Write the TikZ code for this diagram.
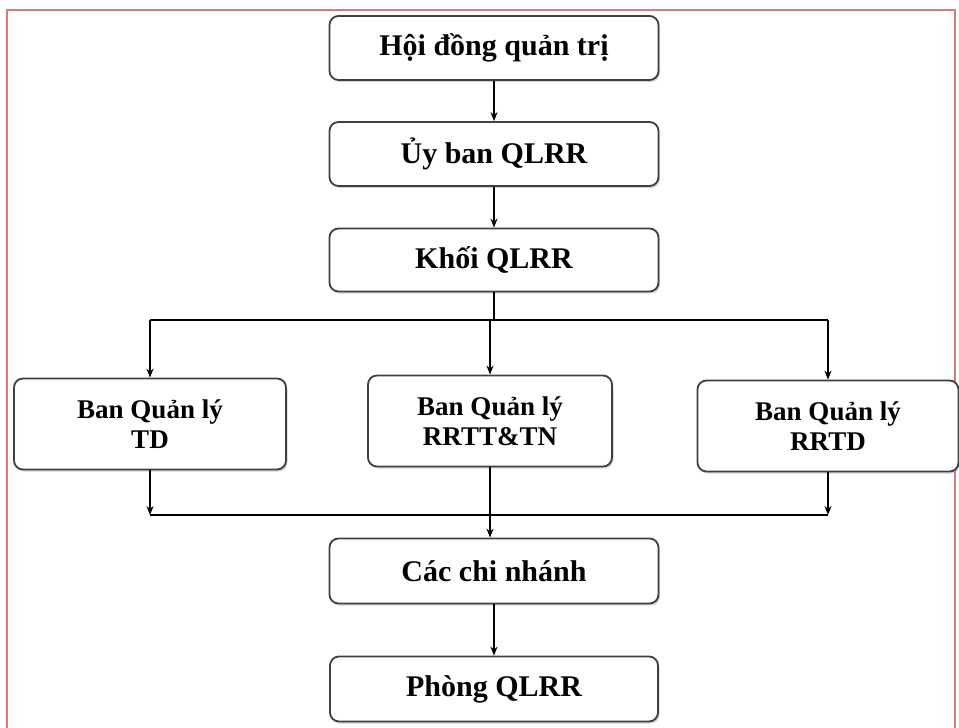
\documentclass[tikz,border=0pt]{standalone}
\usepackage{fontspec}
\setmainfont{Liberation Serif}
\usetikzlibrary{positioning,arrows.meta,shadows}

\begin{document}
\begin{tikzpicture}[x=1pt,y=-1pt,
  box/.style={draw=black!75,line width=1.8pt,rounded corners=9pt,fill=white,
    drop shadow={opacity=0.35,shadow xshift=1.5pt,shadow yshift=-2pt},
    align=center,inner sep=0pt,font=\fontsize{30}{34}\selectfont\bfseries},
  ban/.style={box,font=\fontsize{27}{30}\selectfont\bfseries},
  arr/.style={-{Stealth[length=9pt,width=7pt]},line width=1.4pt}]

\useasboundingbox (0,0) rectangle (959,728);
\draw[color={rgb,255:red,218;green,122;blue,122},line width=1.5pt] (7,10) rectangle (955,760);

\node[box,minimum width=329pt,minimum height=64pt] (HDQT) at (494,48) {Hội đồng quản trị};
\node[box,minimum width=329pt,minimum height=64pt] (UB) at (494,154) {Ủy ban QLRR};
\node[box,minimum width=329pt,minimum height=63pt] (KHOI) at (494,260) {Khối QLRR};

\node[ban,minimum width=272pt,minimum height=91pt] (TD) at (150,424) {Ban Quản lý\\TD};
\node[ban,minimum width=244pt,minimum height=91pt] (RRTT) at (490,421) {Ban Quản lý\\RRTT\&TN};
\node[ban,minimum width=261pt,minimum height=91pt] (RRTD) at (828,426) {Ban Quản lý\\RRTD};

\node[box,minimum width=329pt,minimum height=65pt] (CN) at (494,571) {Các chi nhánh};
\node[box,minimum width=328pt,minimum height=65pt] (PHONG) at (494,689) {Phòng QLRR};

\coordinate (tach) at (494,320);
\coordinate (gop) at (494,515);

\draw[arr](HDQT)--(UB);
\draw[arr](UB)--(KHOI);

% chia xuong ba ban
\draw[line width=1.4pt](KHOI.south)--(tach);
\draw[line width=1.4pt](TD.north |- tach)--(RRTD.north |- tach);
\draw[arr](TD.north |- tach)--(TD.north);
\draw[arr](RRTT.north |- tach)--(RRTT.north);
\draw[arr](RRTD.north |- tach)--(RRTD.north);

% gop ve cac chi nhanh
\draw[arr](TD.south)--(TD.south |- gop);
\draw[arr](RRTD.south)--(RRTD.south |- gop);
\draw[line width=1.4pt](TD.south |- gop)--(RRTD.south |- gop);
\draw[arr](RRTT.south)--(RRTT.south |- CN.north);

\draw[arr](CN)--(PHONG);
\end{tikzpicture}
\end{document}
